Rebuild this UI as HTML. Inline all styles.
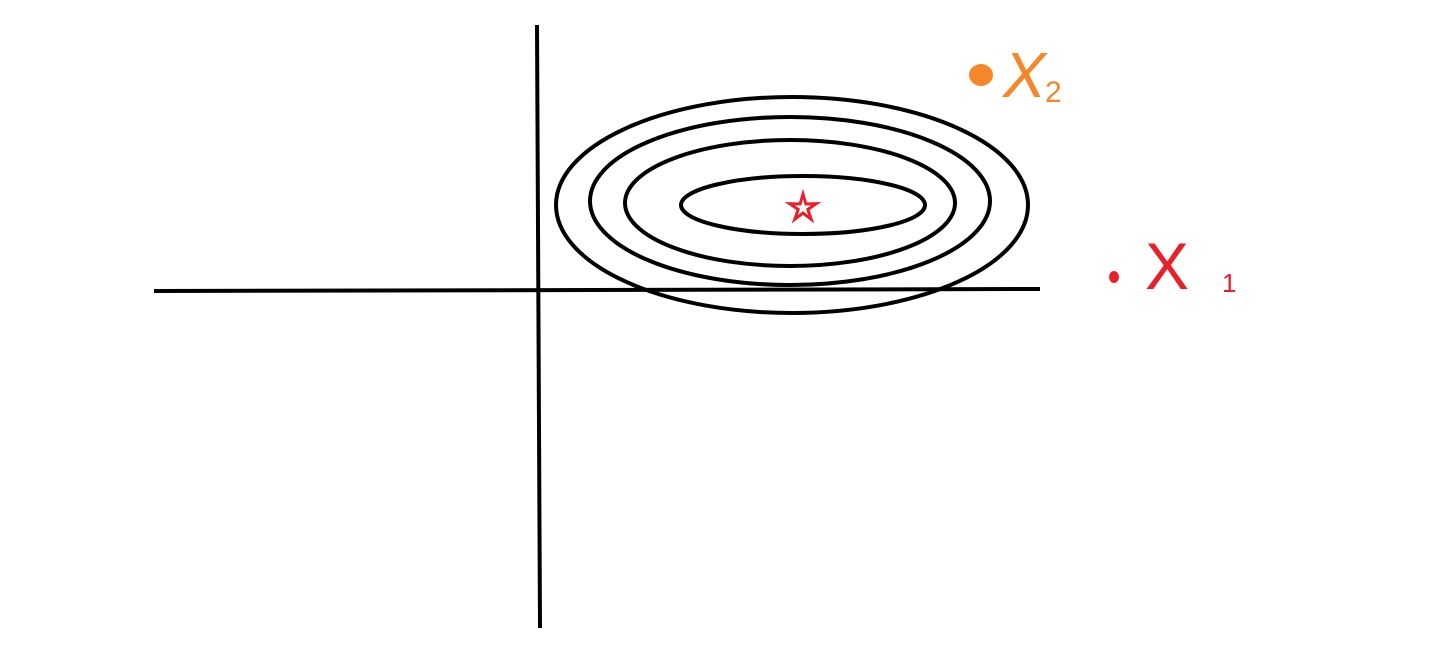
<!DOCTYPE html>
<html><head><meta charset="utf-8"><style>
html,body{margin:0;padding:0;background:#fff;width:1435px;height:645px;overflow:hidden}
svg{display:block}
text{font-family:"Liberation Sans",sans-serif}
</style></head><body>
<svg id="chart" width="1435" height="645" viewBox="0 0 1435 645">
  <line x1="537" y1="25" x2="540" y2="628" stroke="#000" stroke-width="4"/>
  <line x1="154" y1="291" x2="1040" y2="289" stroke="#000" stroke-width="4"/>
  <g id="contours"></g>
  <polygon points="" id="star" fill="none" stroke="#e8202a" stroke-width="3"/>
  <ellipse cx="981" cy="75" rx="12" ry="11" fill="#f5862a"/>
  <text x="1003" y="97" font-size="64" fill="#f5862a" font-style="italic">X</text>
  <text x="1045" y="102" font-size="30" fill="#f5862a">2</text>
  <ellipse cx="1114" cy="277" rx="5" ry="6" fill="#e8202a"/>
  <text x="1145" y="289" font-size="66" fill="#e8202a">X</text>
  <text x="1222" y="292" font-size="26" fill="#e8202a">1</text>
</svg>
<script>
const levels=[1,2,3,4];
const centerX=[803,790,790,792];
const centerY=[205,203,201,205];
const radiusX=[122,165,200,236];
const radiusY=[29,63,84,108];
const starPos=[803,208];
const g=document.getElementById('contours');
levels.forEach((l,i)=>{
  const e=document.createElementNS('http://www.w3.org/2000/svg','ellipse');
  
  
  e.setAttribute('cx',centerX[i]);e.setAttribute('cy',centerY[i]);
  e.setAttribute('rx',radiusX[i]);e.setAttribute('ry',radiusY[i]);
  e.setAttribute('fill','none');e.setAttribute('stroke','#000');e.setAttribute('stroke-width','4');
  g.appendChild(e);
});
const pts=[];
for(let k=0;k<10;k++){const r=k%2?5:14;const a=-Math.PI/2+k*Math.PI/5;pts.push((starPos[0]+r*Math.cos(a)).toFixed(1)+','+(starPos[1]+r*Math.sin(a)).toFixed(1));}
document.getElementById('star').setAttribute('points',pts.join(' '));
</script>
</body></html>
